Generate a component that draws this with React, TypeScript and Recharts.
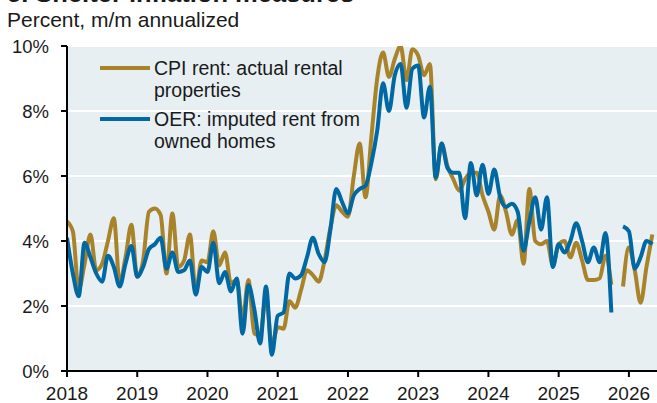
import React from "react";
import { LineChart, Line, XAxis, YAxis, CartesianGrid, Legend } from "recharts";

const startYear = 2018;
const xTicks = [2018, 2019, 2020, 2021, 2022, 2023, 2024, 2025, 2026];
const yTicks = [0, 2, 4, 6, 8, 10];

// Monthly values from Jan 2018 to May 2026 (null = missing month)
const cpiRent: (number | null)[] = [
  4.6, 4.3, 2.5, 3.3, 4.2, 3.1, 3.3, 4.0, 4.7, 2.7, 3.5, 4.5,
  2.9, 3.4, 4.9, 5.0, 4.8, 3.0, 4.85, 3.2, 3.4, 4.2, 2.45, 3.4,
  3.35, 4.3, 3.25, 3.65, 2.7, 2.8, 1.6, 2.8, 1.15, 1.1, 2.3, 0.8,
  1.35, 1.3, 2.15, 1.95, 2.5, 3.1, 2.95, 2.75, 3.4, 4.4, 5.1, 4.9,
  4.75, 6.0, 7.0, 5.35, 7.2, 9.0, 9.8, 9.05, 9.6, 10.0, 8.95, 9.9,
  9.7, 9.1, 9.45, 5.9, 7.0, 6.3, 5.9, 5.55, 5.9, 6.1, 6.1, 5.4,
  4.9, 4.35, 5.4, 4.9, 4.2, 4.65, 3.3, 5.6, 4.0, 3.9, 4.0, 3.25,
  3.9, 4.0, 3.5, 3.95, 3.4, 2.8, 2.8, 2.85, 3.55, 2.65, null, 2.6,
  3.8, 3.1, 2.1, 3.2, 4.2,
];

const oer: (number | null)[] = [
  4.1, 3.0, 2.3, 3.95, 3.5, 3.0, 2.75, 3.55, 3.2, 2.6, 3.3, 3.85,
  2.9, 3.2, 3.75, 3.9, 4.1, 3.15, 3.65, 3.05, 3.1, 3.4, 2.35, 3.2,
  3.05, 3.95, 2.7, 3.05, 2.45, 2.85, 1.15, 2.65, 1.9, 0.85, 2.6, 0.5,
  1.7, 1.8, 3.0, 2.85, 2.95, 3.5, 4.1, 3.6, 3.35, 4.35, 5.6, 5.2,
  4.85, 5.4, 5.6, 5.7, 6.4, 7.4, 8.85, 8.0, 9.1, 9.45, 8.1, 9.3,
  9.4, 7.8, 8.75, 5.95, 7.0, 6.25, 6.1, 6.1, 4.7, 6.4, 5.4, 6.35,
  5.45, 6.2, 5.35, 5.05, 5.15, 4.9, 3.7, 4.6, 5.35, 4.35, 5.35, 3.2,
  3.9, 3.65, 4.0, 4.55, 4.0, 3.35, 3.8, 3.35, 4.25, 1.8, null, 4.45,
  4.3, 3.15, 3.5, 4.0, 3.9,
];

const seriesNames = {
  cpi: ["CPI rent: actual rental", "properties"],
  oer: ["OER: imputed rent from", "owned homes"],
};

const GOLD = "#a8832a";
const BLUE = "#0068a2";
const FONT = "'Liberation Sans', Arial, sans-serif";

const data = cpiRent.map((v, i) => ({
  t: startYear + i / 12,
  cpi: v,
  oer: oer[i],
}));

const legendItems = [
  { color: GOLD, lines: seriesNames.cpi },
  { color: BLUE, lines: seriesNames.oer },
];

const renderLegend = () => (
  <div style={{ fontFamily: FONT, fontSize: 19.5, color: "#1a1a1a", textAlign: "left" }}>
    {legendItems.map((it, idx) => (
      <div
        key={idx}
        style={{ display: "flex", alignItems: "flex-start", marginBottom: 7 }}
      >
        <div
          style={{
            width: 50,
            height: 4,
            background: it.color,
            marginTop: 9,
            marginRight: 4,
            flexShrink: 0,
          }}
        />
        <div style={{ lineHeight: "22px", whiteSpace: "nowrap" }}>
          {it.lines[0]}
          <br />
          {it.lines[1]}
        </div>
      </div>
    ))}
  </div>
);

export default function App() {
  return (
    <div
      style={{
        position: "absolute",
        left: 0,
        top: 0,
        width: 657,
        height: 403,
        background: "#fff",
        overflow: "hidden",
        fontFamily: FONT,
      }}
    >
      <div
        style={{
          position: "absolute",
          left: 7,
          top: -18.6,
          fontSize: 25.5,
          lineHeight: "25.5px",
          fontWeight: "bold",
          color: "#1a1a1a",
          whiteSpace: "nowrap",
        }}
      >
        5. Shelter inflation measures
      </div>
      <div
        style={{
          position: "absolute",
          left: 7,
          top: 9,
          fontSize: 21,
          lineHeight: "21px",
          color: "#1a1a1a",
          whiteSpace: "nowrap",
        }}
      >
        Percent, m/m annualized
      </div>
      <div style={{ position: "absolute", left: 0, top: 0 }}>
        <LineChart
          width={657}
          height={403}
          data={data}
          margin={{ top: 46, right: 0, bottom: 0, left: 0 }}
        >
          <CartesianGrid
            vertical={false}
            horizontal={true}
            fill="#e7eff3"
            stroke="#ffffff"
            strokeWidth={2}
            strokeOpacity={1}
          />
          <XAxis
            dataKey="t"
            type="number"
            domain={[2018, 2026.4]}
            ticks={xTicks}
            allowDataOverflow
            height={32}
            tickSize={6}
            tickMargin={10}
            axisLine={{ stroke: "#000", strokeWidth: 2 }}
            tickLine={{ stroke: "#000", strokeWidth: 2 }}
            tick={{ fill: "#1a1a1a", fontSize: 19, fontFamily: FONT }}
            interval={0}
          />
          <YAxis
            type="number"
            domain={[0, 10]}
            ticks={yTicks}
            allowDataOverflow
            width={67}
            tickSize={6}
            tickMargin={12}
            tickFormatter={(v: number) => `${v}%`}
            axisLine={{ stroke: "#000", strokeWidth: 2 }}
            tickLine={{ stroke: "#000", strokeWidth: 2 }}
            tick={{ fill: "#1a1a1a", fontSize: 18.5, fontFamily: FONT }}
            interval={0}
          />
          <Legend
            layout="vertical"
            align="center"
            verticalAlign="middle"
            content={renderLegend}
            wrapperStyle={{ position: "absolute", left: 100, top: 57, width: 300 }}
          />
          <Line
            type="monotone"
            dataKey="cpi"
            stroke={GOLD}
            strokeWidth={4}
            dot={false}
            isAnimationActive={false}
            connectNulls={false}
          />
          <Line
            type="monotone"
            dataKey="oer"
            stroke={BLUE}
            strokeWidth={4}
            dot={false}
            isAnimationActive={false}
            connectNulls={false}
          />
        </LineChart>
      </div>
    </div>
  );
}
